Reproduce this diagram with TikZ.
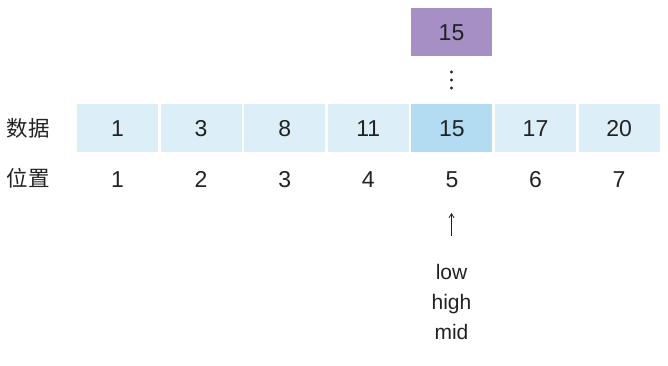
\documentclass[tikz,border=0pt]{standalone}
\usepackage{fontspec}
\setmainfont{Liberation Sans}
\newfontfamily\cjk{Noto Sans CJK SC}
\usetikzlibrary{arrows.meta}
\definecolor{cellc}{HTML}{DCEEF8}
\definecolor{hic}{HTML}{B3DCF2}
\definecolor{purp}{HTML}{A58FC4}
\definecolor{txt}{HTML}{222222}
\begin{document}
\begin{tikzpicture}[x=1pt,y=-1pt,
  cell/.style={fill=cellc,draw=none,minimum width=81pt,minimum height=48pt,inner sep=0pt,text=txt,text height=16.5pt,text depth=0pt,font=\fontsize{23}{26}\selectfont},
  hicell/.style={cell,fill=hic},
  posnum/.style={text=txt,font=\fontsize{23}{26}\selectfont,inner sep=0pt,text height=16.5pt,text depth=0pt},
  lab/.style={text=txt,font=\cjk\fontsize{21.5}{26}\selectfont,inner sep=0pt},
  ptr/.style={text=txt,font=\fontsize{21}{30}\selectfont,inner sep=0pt},
  dot/.style={circle,fill=txt,minimum size=3.2pt,inner sep=0pt,draw=none}]
\useasboundingbox (0,0) rectangle (668,365);
\fill[white] (0,0) rectangle (668,365);
\foreach \i/\v in {1/1,2/3,3/8,4/11,6/17,7/20}{
  \node[cell] (c\i) at ({117.5+83.6*(\i-1)},128) {\v};
}
\node[hicell] (c5) at ({117.5+83.6*4},128) {15};
\foreach \i in {1,...,7}{
  \node[posnum] (p\i) at ({117.5+83.6*(\i-1)},179) {\i};
}
\node[lab] (ldata) at (28,128) {数据};
\node[lab] (lpos) at (28,178) {位置};
\node[cell,fill=purp] (t) at (451.5,32) {15};
\node[dot] (d1) at (451.5,72) {};
\node[dot] (d2) at (451.5,80) {};
\node[dot] (d3) at (451.5,88) {};
\node[ptr,align=center] (ptrs) at (451.5,302) {low\\high\\mid};
\coordinate (ab) at (451.5,236);
\coordinate (at) at (451.5,213);
\draw[txt,line width=0.8pt,-{Straight Barb[length=4pt,width=5pt]}] (ab) -- (at);
\end{tikzpicture}
\end{document}
